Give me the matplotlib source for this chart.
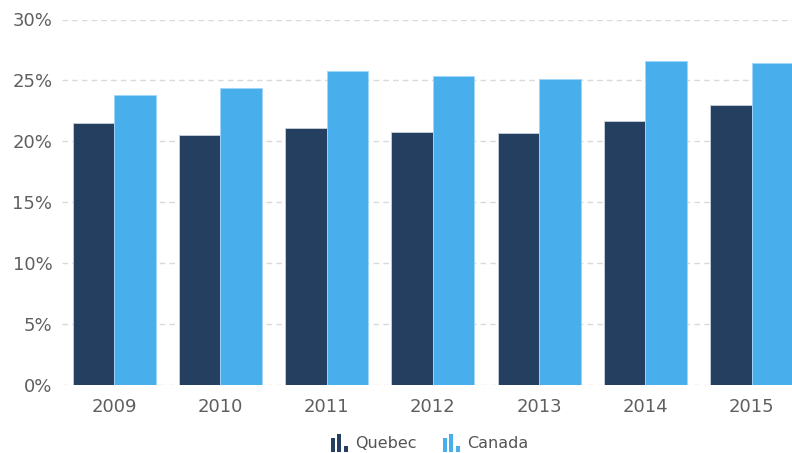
import matplotlib
matplotlib.use("Agg")

import numpy as np
import matplotlib.pyplot as plt
from matplotlib.patches import Rectangle

plt.rcParams["font.family"] = ["DejaVu Sans"]

years = ["2009", "2010", "2011", "2012", "2013", "2014", "2015"]
quebec = [21.5, 20.5, 21.1, 20.8, 20.7, 21.7, 23.0]
canada = [23.8, 24.4, 25.8, 25.4, 25.1, 26.6, 26.4]

QUEBEC_COLOR = "#243f5f"
CANADA_COLOR = "#48aeec"

fig = plt.figure(figsize=(7.92, 4.53), dpi=100)
ax = fig.add_axes([62 / 792, 1 - 385 / 453, 1 - 62 / 792, (385 - 19.5) / 453])

x = np.arange(len(years))
w = 0.39

ax.bar(x - w / 2, quebec, width=w, color=QUEBEC_COLOR,
       edgecolor="#c9d2dc", linewidth=0.6, zorder=3)
ax.bar(x + w / 2, canada, width=w, color=CANADA_COLOR,
       edgecolor="#9fd6fa", linewidth=0.6, zorder=3)

ax.set_xlim(-0.49, 6.38)
ax.set_ylim(0, 30)
ax.set_yticks(range(0, 31, 5))
ax.set_yticklabels([f"{v}%" for v in range(0, 31, 5)])
ax.set_xticks(x)
ax.set_xticklabels(years)

ax.grid(axis="y", color="#d9d9d9", linestyle=(0, (4, 3)), linewidth=1, zorder=0)
ax.grid(axis="x", visible=False)
for s in ax.spines.values():
    s.set_visible(False)

ax.tick_params(axis="both", length=0, labelsize=13, colors="#5f5f5f")
ax.tick_params(axis="y", pad=7)
ax.tick_params(axis="x", pad=9)


def legend_icon(px, py, color):
    # small bar-chart glyph, px/py in pixels (top-left origin), py = bottom
    bars = [(0, 14), (6.5, 18), (13, 6)]
    for dx, h in bars:
        fig.patches.append(Rectangle(((px + dx) / 792, 1 - py / 453),
                                     4 / 792, h / 453,
                                     transform=fig.transFigure,
                                     color=color, linewidth=0))


legend_icon(330.5, 451.5, QUEBEC_COLOR)
fig.text(355 / 792, 1 - 443 / 453, "Quebec", fontsize=11.5, color="#555555",
         va="center", ha="left")
legend_icon(442.5, 451.5, CANADA_COLOR)
fig.text(467 / 792, 1 - 443 / 453, "Canada", fontsize=11.5, color="#555555",
         va="center", ha="left")

fig.savefig("out.png", dpi=100)
